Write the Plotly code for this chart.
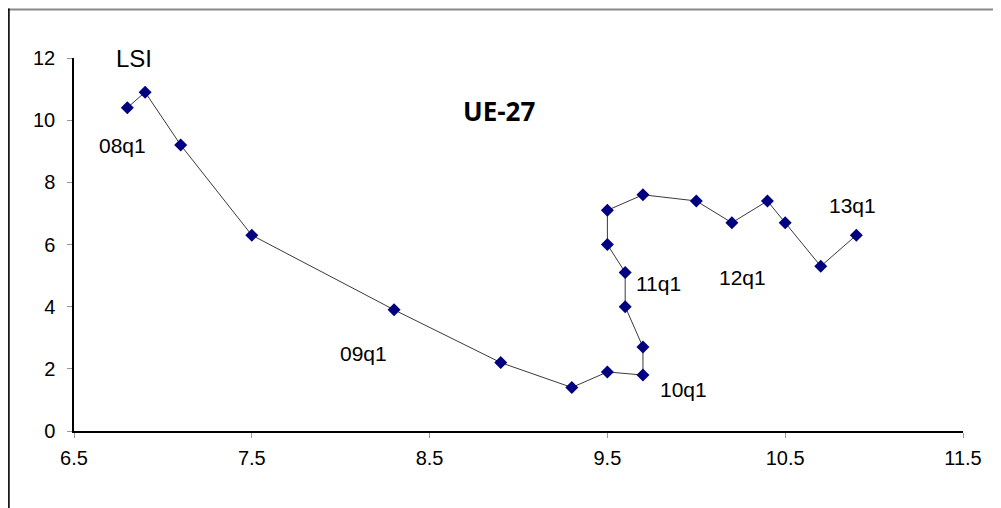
import plotly.graph_objects as go

# Data
rq = [6.8, 6.9, 7.1, 7.5, 8.3, 8.9, 9.3, 9.5, 9.7, 9.7, 9.6, 9.6, 9.5, 9.5, 9.7, 10.0, 10.2, 10.4, 10.5, 10.7, 10.9]
lsi = [10.4, 10.9, 9.2, 6.3, 3.9, 2.2, 1.4, 1.9, 1.8, 2.7, 4.0, 5.1, 6.0, 7.1, 7.6, 7.4, 6.7, 7.4, 6.7, 5.3, 6.3]

label_text = ["08q1", "09q1", "10q1", "11q1", "12q1", "13q1"]
label_x = [6.77, 8.13, 9.93, 9.79, 10.26, 10.88]
label_y = [9.2, 2.5, 1.32, 4.76, 4.95, 7.27]

x_ticks = [6.5, 7.5, 8.5, 9.5, 10.5, 11.5]
y_ticks = [0, 2, 4, 6, 8, 10, 12]

OFF = 8  # page body margin
W, H = 1001 - OFF, 508 - OFF
ml, mt = 74 - OFF, 57.5 - OFF
pw, ph = 889, 373.5
mr = W - ml - pw
mb = H - mt - ph

def fx(xf):
    # figure pixel x -> paper
    return (xf - ml) / pw

def fy(yf):
    # figure pixel y (from top) -> paper
    return (H - mb - yf) / ph

fig = go.Figure()
fig.add_trace(go.Scatter(
    x=rq, y=lsi, mode="lines+markers",
    line=dict(color="#3a3a3a", width=1),
    marker=dict(symbol="diamond", size=10, color="#000080"),
    showlegend=False, hoverinfo="skip", cliponaxis=False,
))

font_main = "Liberation Sans, Arial, sans-serif"
annotations = []
for t, x, y in zip(label_text, label_x, label_y):
    annotations.append(dict(x=x, y=y, text=t, showarrow=False, xref="x", yref="y",
                            font=dict(family=font_main, size=21, color="black"),
                            xanchor="center", yanchor="middle"))
annotations.append(dict(x=6.84, y=12.0, text="LSI", showarrow=False,
                        font=dict(family=font_main, size=24, color="black"),
                        xanchor="center", yanchor="middle"))
annotations.append(dict(x=11.58, y=1.7, text="RQ", showarrow=False,
                        font=dict(family=font_main, size=24, color="black"),
                        xanchor="center", yanchor="middle"))
annotations.append(dict(x=8.89, y=10.29, text="<b>UE-27</b>", showarrow=False,
                        font=dict(family="Open Sans, sans-serif", size=26, color="black"),
                        xanchor="center", yanchor="middle"))

shapes = [
    dict(type="line", xref="paper", yref="paper", x0=fx(0), x1=fx(W + 5), y0=fy(1), y1=fy(1),
         line=dict(color="#8a8a8a", width=2)),
    dict(type="line", xref="paper", yref="paper", x0=fx(0.9), x1=fx(0.9), y0=fy(0), y1=fy(H + 5),
         line=dict(color="black", width=1.6)),
]

fig.update_layout(
    width=W, height=H,
    margin=dict(l=ml, r=mr, t=mt, b=mb),
    paper_bgcolor="white", plot_bgcolor="white",
    annotations=annotations, shapes=shapes,
    xaxis=dict(range=[6.5, 11.5], tickvals=x_ticks, ticktext=[str(v) for v in x_ticks],
               showline=True, linecolor="black", linewidth=1.5, ticks="outside", ticklen=5,
               tickcolor="#999", showgrid=False, zeroline=False, ticklabelstandoff=3,
               tickfont=dict(family=font_main, size=20, color="black")),
    yaxis=dict(range=[0, 12], tickvals=y_ticks, ticktext=[str(v) for v in y_ticks],
               showline=True, linecolor="black", linewidth=1.5, ticks="outside", ticklen=5,
               tickcolor="#999", showgrid=False, zeroline=False, ticklabelstandoff=8,
               tickfont=dict(family=font_main, size=20, color="black")),
)

fig.write_html("out.html")
